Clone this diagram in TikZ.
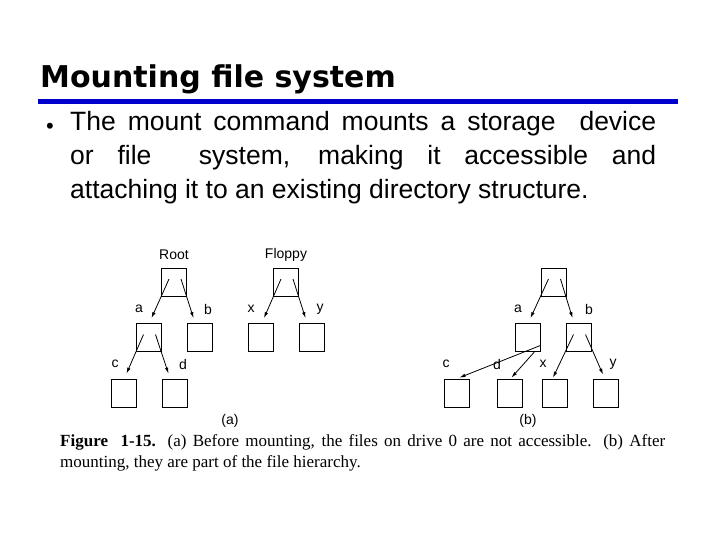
\documentclass[tikz,border=0pt]{standalone}
\usepackage{fontspec}
\setmainfont{Liberation Sans}
\newfontfamily\titlefont{DejaVu Sans}
\newfontfamily\capfont{Liberation Serif}
\usetikzlibrary{arrows.meta,calc}
\begin{document}
\begin{tikzpicture}[x=1pt,y=-1pt,
    fbox/.style={draw,thick,minimum width=25pt,minimum height=28pt,inner sep=0pt},
    lbl/.style={font=\fontsize{14}{14}\selectfont,inner sep=0pt},
    ptr/.style={thick,-{Latex[length=6pt,width=3.5pt]}}]
  \useasboundingbox (0,0) rectangle (720,540);
  % heading
  \node[anchor=base west,inner sep=0pt,font=\titlefont\bfseries\fontsize{30}{30}\selectfont] (title) at (40,88) {\scalebox{1.0}[1]{Mounting file system}};
  \draw[line width=5pt,color={rgb,255:red,0;green,0;blue,204}] (38,101.5) -- (678,101.5);
  \node[anchor=center,inner sep=0pt,font=\fontsize{22}{22}\selectfont] (dot) at (50,128) {•};
  \node[anchor=north west,inner sep=0pt,text width=586pt,align=justify,font=\fontsize{26.5}{34}\selectfont] (text) at (70,111)
    {The mount command mounts a storage\ \ device\linebreak or file\ \ system, making it accessible and\linebreak attaching it to an existing directory structure.};
  % (a) before mounting
  \node[fbox] (root) at (174,282) {};
  \node[fbox] (a) at (148.5,337.5) {};
  \node[fbox] (b) at (199.5,337.5) {};
  \node[fbox] (c) at (123.5,393) {};
  \node[fbox] (d) at (174.5,393) {};
  \node[fbox] (floppy) at (286,282) {};
  \node[fbox] (x) at (261,337.5) {};
  \node[fbox] (y) at (311.5,337.5) {};
  \node[lbl] (lroot) at (174,255) {Root};
  \node[lbl] (lfloppy) at (286,255) {Floppy};
  \node[lbl] (la) at (139,309) {a};
  \node[lbl] (lb) at (208,309) {b};
  \node[lbl] (lc) at (115,364) {c};
  \node[lbl] (ld) at (183,364) {d};
  \node[lbl] (lx) at (251,309) {x};
  \node[lbl] (ly) at (320,309) {y};
  \draw[ptr] ($(root.center)+(-5,-3)$) -- ($(a.north)+(3,-5)$);
  \draw[ptr] ($(root.center)+(7,-3)$) -- ($(b.north)+(-6,-5)$);
  \draw[ptr] ($(a.center)+(-5,-3)$) -- ($(c.north)+(3,-5)$);
  \draw[ptr] ($(a.center)+(7,-3)$) -- ($(d.north)+(-6,-5)$);
  \draw[ptr] ($(floppy.center)+(-5,-3)$) -- ($(x.north)+(3,-5)$);
  \draw[ptr] ($(floppy.center)+(7,-3)$) -- ($(y.north)+(-6,-5)$);
  \node[lbl] (capa) at (230,421) {(a)};
  % (b) after mounting
  \node[fbox] (root2) at (553.5,282) {};
  \node[fbox] (a2) at (527.5,337.5) {};
  \node[fbox] (b2) at (578.5,337.5) {};
  \node[fbox] (c2) at (456.5,393) {};
  \node[fbox] (d2) at (509.5,393) {};
  \node[fbox] (x2) at (555,393) {};
  \node[fbox] (y2) at (606,393) {};
  \node[lbl] (la2) at (518,309) {a};
  \node[lbl] (lb2) at (589,309) {b};
  \node[lbl] (lc2) at (446,364) {c};
  \node[lbl] (ld2) at (497,364) {d};
  \node[lbl] (lx2) at (543,364) {x};
  \node[lbl] (ly2) at (613,364) {y};
  \draw[ptr] ($(root2.center)+(-5,-3)$) -- ($(a2.north)+(3,-5)$);
  \draw[ptr] ($(root2.center)+(7,-3)$) -- ($(b2.north)+(-6,-5)$);
  \draw[ptr] ($(a2.east)+(0,8)$) -- ($(c2.north)+(3,-1)$);
  \draw[ptr] ($(a2.south east)+(-6,0)$) -- ($(d2.north)+(2,-1)$);
  \draw[ptr] ($(b2.center)+(-5,-3)$) -- ($(x2.north)+(-2,-1)$);
  \draw[ptr] ($(b2.center)+(7,-3)$) -- ($(y2.north)+(-3,-4)$);
  \node[lbl] (capb) at (528,421) {(b)};
  % caption
  \node[anchor=north west,inner sep=0pt,text width=605pt,align=justify,font=\capfont\fontsize{17}{21}\selectfont] (figcap) at (60,434)
    {\textbf{Figure\ \ 1-15.} (a) Before mounting, the files on drive 0 are not accessible. (b) After\linebreak mounting, they are part of the file hierarchy.};
\end{tikzpicture}
\end{document}
